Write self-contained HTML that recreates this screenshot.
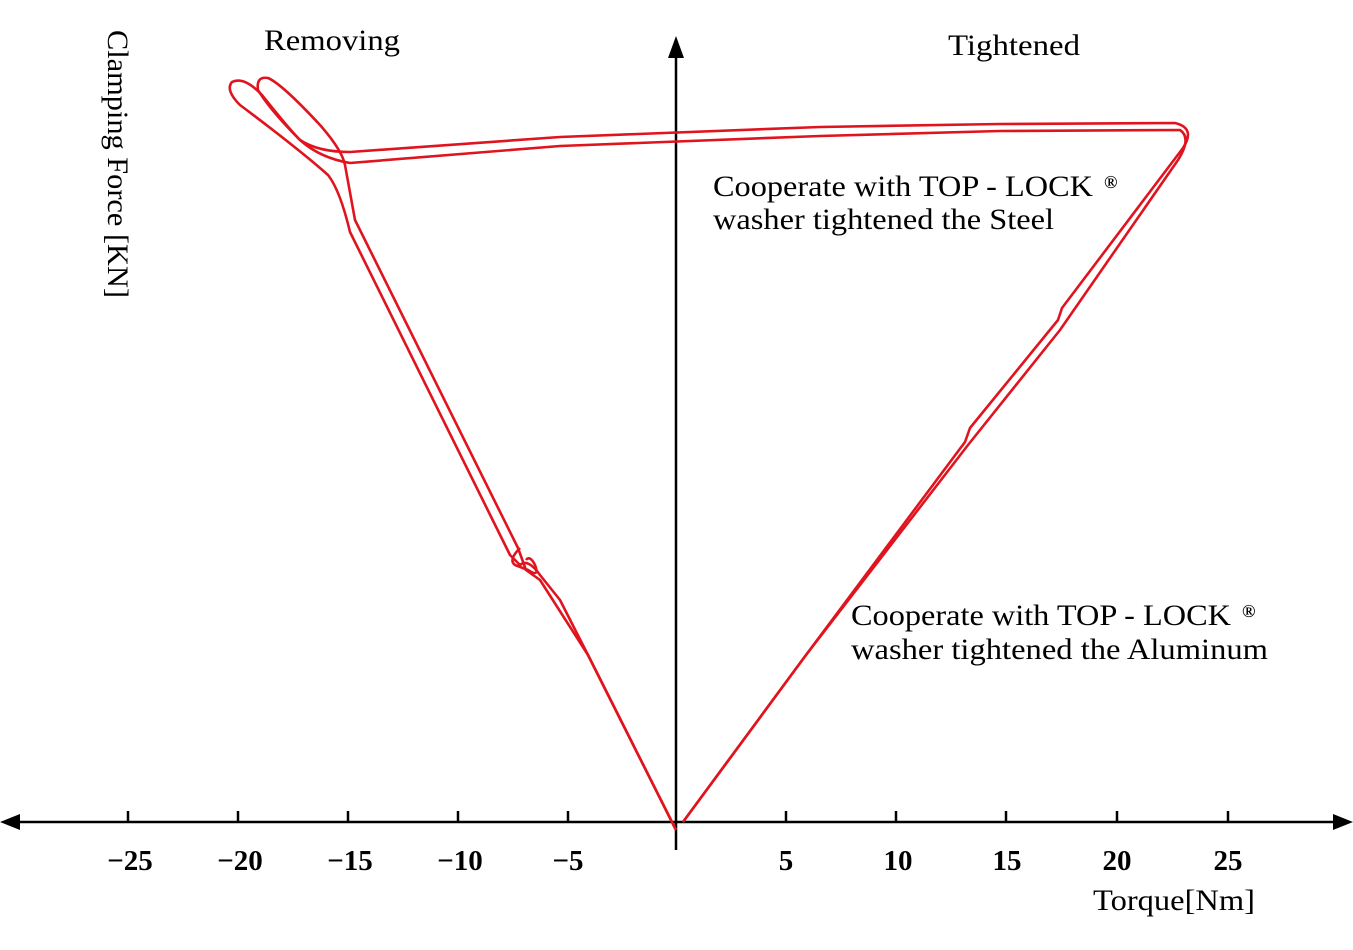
<!DOCTYPE html>
<html><head><style>
html,body{margin:0;padding:0;background:#fff;}
svg{display:block;}
text{font-family:"Liberation Serif",serif;fill:#000;}
</style></head><body>
<svg width="1353" height="950" viewBox="0 0 1353 950" xmlns="http://www.w3.org/2000/svg">
<g stroke="#000" stroke-width="2.5" fill="none">
<line x1="8" y1="822" x2="1342" y2="822"/>
<line x1="676" y1="50" x2="676" y2="850"/>
<line x1="128" y1="822" x2="128" y2="811"/>
<line x1="238" y1="822" x2="238" y2="811"/>
<line x1="348" y1="822" x2="348" y2="811"/>
<line x1="458" y1="822" x2="458" y2="811"/>
<line x1="568" y1="822" x2="568" y2="811"/>
<line x1="786" y1="822" x2="786" y2="811"/>
<line x1="896" y1="822" x2="896" y2="811"/>
<line x1="1006" y1="822" x2="1006" y2="811"/>
<line x1="1117" y1="822" x2="1117" y2="811"/>
<line x1="1228" y1="822" x2="1228" y2="811"/>
</g>
<polygon points="0,822 20,814 20,830" fill="#000"/>
<polygon points="1353,822 1333,814 1333,830" fill="#000"/>
<polygon points="676,36 668,58 684,58" fill="#000"/>
<g fill="none" stroke="#e0141e" stroke-width="2.6" stroke-linejoin="round">
<path d="M683,822 L806,655 L965,442 L970,428 L1058,320 L1062,308 L1183,148 Q1196,128 1175,123 L1000,124 L820,127 L560,137 L350,152 Q318,152 300,140 Q270,110 258,90 Q256,76 268,78 Q282,84 320,125 Q342,150 345,165 L355,220 L518,548 L526,570 L540,580 L588,655 L676,830"/>
<path d="M676,830 L588,655 L560,600 L540,575 Q528,558 520,565 L510,555 L350,232 Q340,190 328,175 Q300,150 240,105 Q225,90 232,82 Q244,76 262,95 Q290,130 300,140 Q320,158 350,163 L560,146 L820,136 L1000,131 L1180,130 Q1192,138 1178,160 L1060,330 L968,445 L806,655 L683,822"/>
<path d="M520,548 Q508,560 515,565 L528,570 Q540,578 535,565 Q530,555 526,560"/>
</g>
<g font-size="30">
<text x="264" y="50" textLength="136" lengthAdjust="spacingAndGlyphs">Removing</text>
<text x="948" y="55" textLength="132" lengthAdjust="spacingAndGlyphs">Tightened</text>
<text x="713" y="196" textLength="380" lengthAdjust="spacingAndGlyphs">Cooperate with TOP - LOCK</text>
<text x="1104" y="188" font-size="18" font-weight="bold">®</text>
<text x="713" y="229" textLength="341" lengthAdjust="spacingAndGlyphs">washer tightened the Steel</text>
<text x="851" y="625" textLength="380" lengthAdjust="spacingAndGlyphs">Cooperate with TOP - LOCK</text>
<text x="1242" y="617" font-size="18" font-weight="bold">®</text>
<text x="851" y="659" textLength="417" lengthAdjust="spacingAndGlyphs">washer tightened the Aluminum</text>
<text x="1093" y="910" textLength="162" lengthAdjust="spacingAndGlyphs">Torque[Nm]</text>
<text transform="translate(108,30) rotate(90)" textLength="268" lengthAdjust="spacingAndGlyphs">Clamping Force [KN]</text>
</g>
<g font-size="29" font-weight="bold" text-anchor="middle">
<text x="130" y="870">−25</text>
<text x="240" y="870">−20</text>
<text x="350" y="870">−15</text>
<text x="460" y="870">−10</text>
<text x="568" y="870">−5</text>
<text x="786" y="870">5</text>
<text x="898" y="870">10</text>
<text x="1007" y="870">15</text>
<text x="1117" y="870">20</text>
<text x="1228" y="870">25</text>
</g>
</svg>
</body></html>
